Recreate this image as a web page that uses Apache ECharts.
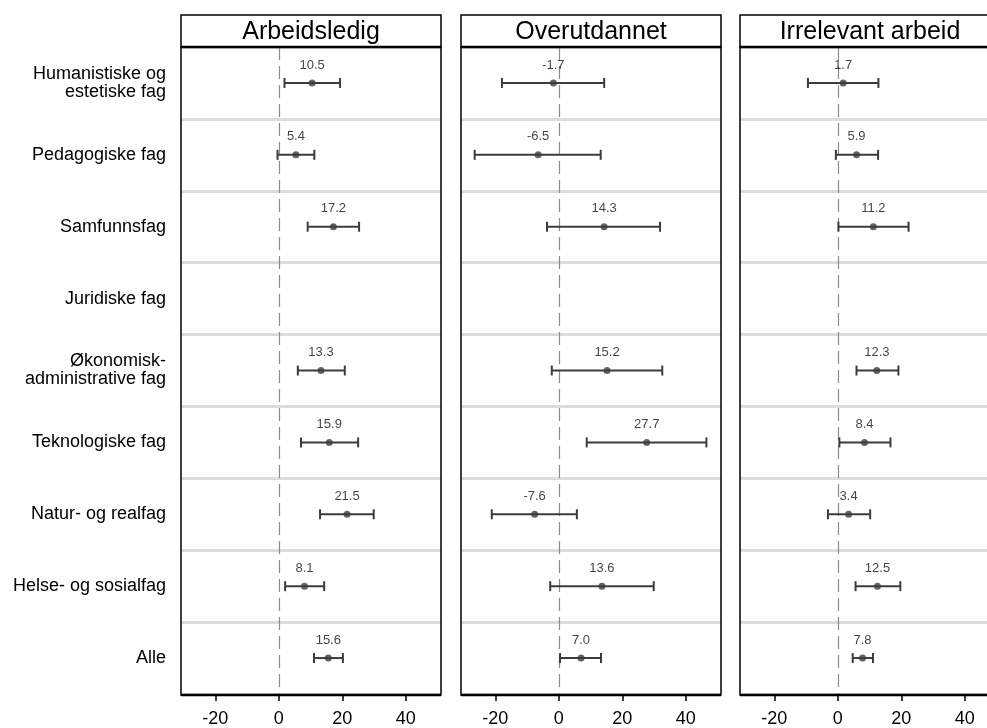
<!DOCTYPE html>
<html>
<head>
<meta charset="utf-8">
<script src="https://cdn.jsdelivr.net/npm/echarts@6/dist/echarts.min.js"></script>
<style>html,body{margin:0;padding:0;background:#fff}#c{width:987px;height:728px}</style>
</head>
<body>
<div id="c"></div>
<script>
const categories = ["Humanistiske og\nestetiske fag","Pedagogiske fag","Samfunnsfag","Juridiske fag","Økonomisk-\nadministrative fag","Teknologiske fag","Natur- og realfag","Helse- og sosialfag","Alle"];
const panelTitles = ["Arbeidsledig","Overutdannet","Irrelevant arbeid"];
const xTicks = [-20, 0, 20, 40];

const arbeidsledigEst = [10.5, 5.4, 17.2, null, 13.3, 15.9, 21.5, 8.1, 15.6];
const arbeidsledigLo  = [1.8, -0.4, 9.1, null, 6.0, 7.0, 13.0, 2.0, 11.1];
const arbeidsledigHi  = [19.3, 11.2, 25.3, null, 20.8, 25.0, 29.9, 14.3, 20.2];

const overutdannetEst = [-1.7, -6.5, 14.3, null, 15.2, 27.7, -7.6, 13.6, 7.0];
const overutdannetLo  = [-17.9, -26.5, -3.7, null, -2.2, 8.8, -21.1, -2.7, 0.4];
const overutdannetHi  = [14.3, 13.2, 31.9, null, 32.6, 46.5, 5.7, 29.9, 13.3];

const irrelevantEst = [1.7, 5.9, 11.2, null, 12.3, 8.4, 3.4, 12.5, 7.8];
const irrelevantLo  = [-9.4, -0.6, 0.2, null, 5.9, 0.5, -3.1, 5.6, 4.7];
const irrelevantHi  = [12.8, 12.7, 22.3, null, 19.1, 16.6, 10.2, 19.7, 11.1];

const panels = [
  {est: arbeidsledigEst, lo: arbeidsledigLo, hi: arbeidsledigHi},
  {est: overutdannetEst, lo: overutdannetLo, hi: overutdannetHi},
  {est: irrelevantEst, lo: irrelevantLo, hi: irrelevantHi}
];

const FONT = '"Liberation Sans", Arial, Helvetica, sans-serif';
const panelLeft = [181, 461, 740];
const panelW = 260;
const xMin = -30.8, xMax = 51.1;
const pxPerUnit = panelW / (xMax - xMin);
const plotTop = 47, plotH = 648, headTop = 15, headH = 32;
const canvasW = 987;
const ink = '#3c3c3c';

const grids = [], xAxes = [], yAxes = [], series = [], graphics = [];

panels.forEach((p, k) => {
  const x = panelLeft[k];
  // the last panel runs past the canvas edge: show only the visible part of its axis
  const visW = Math.min(panelW, canvasW - x);
  const visMax = xMin + visW / pxPerUnit;
  grids.push({left: x, top: plotTop, width: visW, height: plotH, show: false});
  xAxes.push({
    gridIndex: k, type: 'value', min: xMin, max: visMax,
    axisLine: {show: false},
    splitLine: {show: false},
    axisTick: {show: true, customValues: xTicks, length: 7, lineStyle: {color: '#000', width: 1.5}},
    axisLabel: {customValues: xTicks, fontSize: 18, margin: 16, color: '#000', fontFamily: FONT}
  });
  yAxes.push({
    gridIndex: k, type: 'category', data: categories, inverse: true, boundaryGap: true,
    axisLine: {show: false}, axisTick: {show: false},
    splitLine: {show: true, interval: 0, lineStyle: {color: '#dcdcdc', width: 3}},
    axisLabel: {show: k === 0, interval: 0, fontSize: 18, lineHeight: 18, margin: 15, color: '#000', fontFamily: FONT, align: 'right'}
  });
  const barData = [], ptData = [];
  p.est.forEach((v, i) => {
    if (v === null) return;
    barData.push([p.lo[i], p.hi[i], i]);
    ptData.push([v, i]);
  });
  series.push({
    type: 'custom', xAxisIndex: k, yAxisIndex: k, z: 3,
    encode: {x: [0, 1], y: 2},
    data: barData,
    renderItem: function (params, api) {
      const c = api.value(2);
      const a = api.coord([api.value(0), c]);
      const b = api.coord([api.value(1), c]);
      const h = 5;
      const st = {stroke: ink, lineWidth: 2};
      return {type: 'group', children: [
        {type: 'line', shape: {x1: a[0], y1: a[1], x2: b[0], y2: b[1]}, style: st},
        {type: 'line', shape: {x1: a[0], y1: a[1] - h, x2: a[0], y2: a[1] + h}, style: st},
        {type: 'line', shape: {x1: b[0], y1: b[1] - h, x2: b[0], y2: b[1] + h}, style: st}
      ]};
    }
  });
  series.push({
    type: 'scatter', xAxisIndex: k, yAxisIndex: k, z: 4,
    symbol: 'circle', symbolSize: 7,
    itemStyle: {color: ink},
    data: ptData,
    label: {show: true, position: 'top', distance: 8, fontSize: 13, color: '#111', fontFamily: FONT,
      formatter: (d) => d.value[0].toFixed(1)},
    markLine: {
      silent: true, symbol: 'none', z: 1,
      label: {show: false},
      lineStyle: {type: [13, 6], color: '#8c8c8c', width: 1.2},
      data: [{xAxis: 0}]
    }
  });
  // frames
  graphics.push({type: 'rect', z: 100, shape: {x: x, y: headTop, width: panelW, height: headH}, style: {fill: 'none', stroke: '#000', lineWidth: 1.5}});
  graphics.push({type: 'rect', z: 100, shape: {x: x, y: plotTop, width: panelW, height: plotH}, style: {fill: 'none', stroke: '#000', lineWidth: 1.5}});
  graphics.push({type: 'line', z: 101, shape: {x1: x, y1: plotTop, x2: x + panelW, y2: plotTop}, style: {stroke: '#000', lineWidth: 2.5}});
  graphics.push({type: 'line', z: 101, shape: {x1: x, y1: plotTop + plotH, x2: x + panelW, y2: plotTop + plotH}, style: {stroke: '#000', lineWidth: 2.5}});
  graphics.push({type: 'text', z: 102, x: x + panelW / 2, y: headTop + headH / 2 + 1,
    style: {text: panelTitles[k], fill: '#000', font: '25px ' + FONT, textAlign: 'center', textVerticalAlign: 'middle'}});
});

const chart = echarts.init(document.getElementById('c'), null, {renderer: 'canvas'});
chart.setOption({
  animation: false,
  backgroundColor: '#fff',
  grid: grids, xAxis: xAxes, yAxis: yAxes, series: series,
  graphic: graphics
});
</script>
</body>
</html>
